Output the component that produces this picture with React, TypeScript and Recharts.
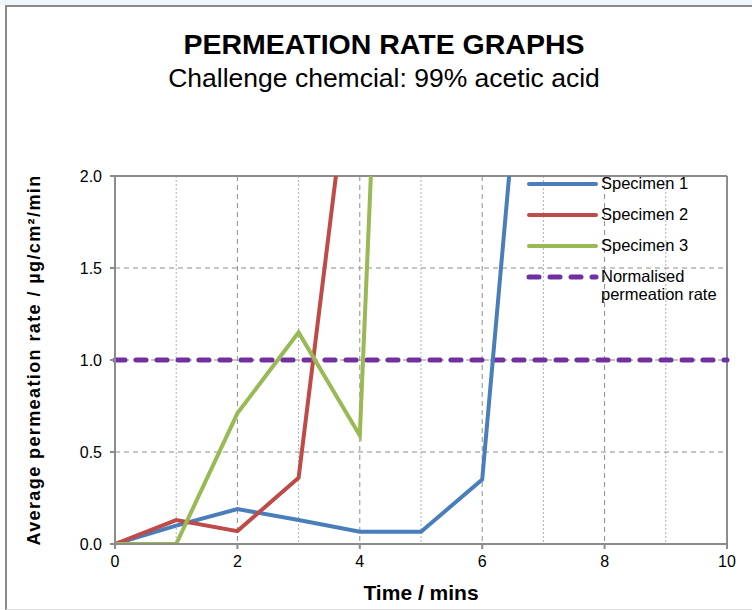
import React from 'react'
import {
  CartesianGrid,
  Line,
  LineChart,
  ReferenceLine,
  XAxis,
  YAxis,
} from 'recharts'

const times = [0, 1, 2, 3, 4, 5, 6, 7, 8, 9, 10]
const specimen1 = [0, 0.1, 0.19, 0.13, 0.067, 0.067, 0.35, 4.1]
const specimen2 = [0, 0.13, 0.07, 0.36, 3.05]
const specimen3 = [0, 0, 0.71, 1.15, 0.59, 8.4]
const normalised = [1, 1, 1, 1, 1, 1, 1, 1, 1, 1, 1]

const xTicks = [0, 2, 4, 6, 8, 10]
const yTicks = [0, 0.5, 1, 1.5, 2]
const oddMinutes = [1, 3, 5, 7, 9]

const COLORS = {
  s1: '#4a7ebb',
  s2: '#be4b48',
  s3: '#98b954',
  norm: '#7030a0',
  axis: '#8c8c8c',
}

const FONT = '"Liberation Sans", Arial, sans-serif'

const data = times.map((t, i) => ({
  t,
  s1: specimen1[i],
  s2: specimen2[i],
  s3: specimen3[i],
  norm: normalised[i],
}))

const legendItems = [
  { label: 'Specimen 1', color: COLORS.s1, dashed: false },
  { label: 'Specimen 2', color: COLORS.s2, dashed: false },
  { label: 'Specimen 3', color: COLORS.s3, dashed: false },
  { label: 'Normalised\npermeation rate', color: COLORS.norm, dashed: true },
]

function ChartLegend() {
  return (
    <div style={{ position: 'absolute', left: 524, top: 174, fontFamily: FONT, fontSize: 16.5, color: '#000' }}>
      {legendItems.map((item) => (
        <div key={item.label} style={{ display: 'flex', alignItems: 'flex-start', height: 31 }}>
          <svg width={77} height={20} style={{ flex: 'none' }}>
            <line
              x1={5}
              x2={72}
              y1={10}
              y2={10}
              stroke={item.color}
              strokeWidth={item.dashed ? 5 : 4}
              strokeLinecap="round"
              strokeDasharray={item.dashed ? '10 11' : undefined}
            />
          </svg>
          <div style={{ whiteSpace: 'pre', lineHeight: '18px', marginTop: 0 }}>{item.label}</div>
        </div>
      ))}
    </div>
  )
}

export default function App() {
  return (
    <div style={{ position: 'absolute', left: 0, top: 0, width: 752, height: 610, background: '#fff', overflow: 'hidden' }}>
      <div style={{ position: 'absolute', left: 0, top: 0, width: 752, height: 5, background: '#eef6fc' }} />
      <div
        style={{
          position: 'absolute',
          left: 5,
          top: 5,
          width: 800,
          height: 602,
          borderLeft: '2px solid #8a8a8a',
          borderTop: '2px solid #8a8a8a',
          borderBottom: '1px solid #dddddd',
        }}
      />
      <div style={{ position: 'absolute', left: 0, width: 768, top: 27, textAlign: 'center', fontFamily: FONT, fontWeight: 'bold', fontSize: 28.5, lineHeight: '34px' }}>
        PERMEATION RATE GRAPHS
      </div>
      <div style={{ position: 'absolute', left: 0, width: 768, top: 62, textAlign: 'center', fontFamily: FONT, fontSize: 26.5, lineHeight: '32px' }}>
        Challenge chemcial: 99% acetic acid
      </div>
      <div style={{ position: 'absolute', left: 0, top: 0 }}>
        <LineChart width={752} height={610} data={data} margin={{ top: 176, right: 25, bottom: 0, left: 0 }}>
          <CartesianGrid stroke="#b0b0b0" strokeDasharray="2 2" horizontal={false} verticalValues={oddMinutes} />
          <CartesianGrid stroke="#8c8c8c" strokeDasharray="5 4" verticalValues={xTicks} horizontalValues={yTicks} />
          <XAxis
            dataKey="t"
            type="number"
            domain={[0, 10]}
            ticks={xTicks}
            height={66}
            stroke={COLORS.axis}
            strokeWidth={2}
            tickSize={5}
            tickMargin={7}
            tick={{ fill: '#000', fontSize: 16, fontFamily: FONT }}
            label={{ value: 'Time / mins', position: 'insideBottom', offset: 10, fill: '#000', fontSize: 21, fontWeight: 'bold', fontFamily: FONT }}
          />
          <YAxis
            type="number"
            domain={[0, 2]}
            allowDataOverflow
            ticks={yTicks}
            width={115}
            stroke={COLORS.axis}
            strokeWidth={2}
            tickSize={5}
            tickMargin={8}
            tickFormatter={(v: number) => v.toFixed(1)}
            tick={{ fill: '#000', fontSize: 16, fontFamily: FONT }}
            label={{
              value: 'Average permeation rate / µg/cm²/min',
              angle: -90,
              position: 'insideLeft',
              offset: 34,
              style: { textAnchor: 'middle', fill: '#000', fontSize: 18, fontWeight: 'bold', fontFamily: FONT, letterSpacing: 1.4 },
            }}
          />
          <ReferenceLine y={2} stroke={COLORS.axis} strokeWidth={2} />
          <ReferenceLine x={10} stroke={COLORS.axis} strokeWidth={2} />
          <Line dataKey="norm" stroke={COLORS.norm} strokeWidth={5} strokeDasharray="10 11" strokeLinecap="round" dot={false} isAnimationActive={false} />
          <Line dataKey="s1" stroke={COLORS.s1} strokeWidth={4} dot={false} isAnimationActive={false} />
          <Line dataKey="s2" stroke={COLORS.s2} strokeWidth={4} dot={false} isAnimationActive={false} />
          <Line dataKey="s3" stroke={COLORS.s3} strokeWidth={4} dot={false} isAnimationActive={false} />
        </LineChart>
      </div>
      <ChartLegend />
    </div>
  )
}
